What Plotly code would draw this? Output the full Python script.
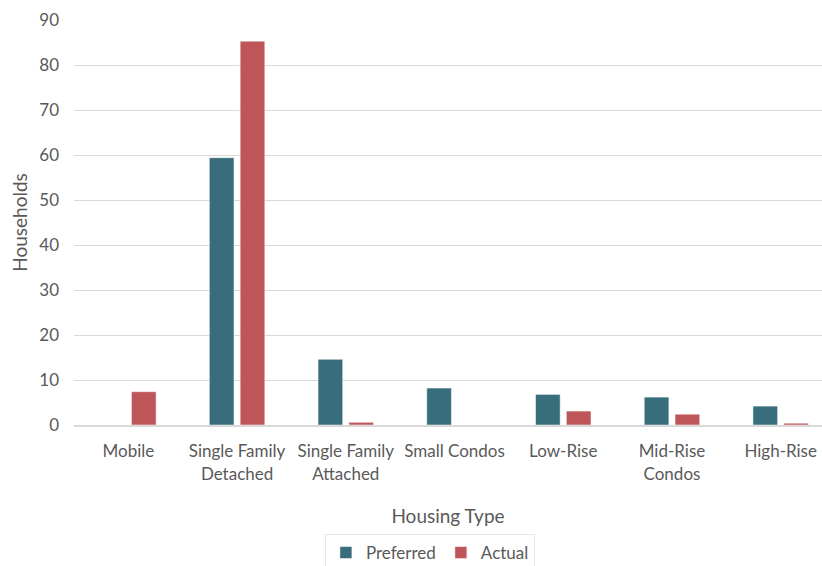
import plotly.graph_objects as go

categories = [
    "Mobile",
    "Single Family<br>Detached",
    "Single Family<br>Attached",
    "Small Condos",
    "Low-Rise",
    "Mid-Rise<br>Condos",
    "High-Rise",
]
preferred = [0, 59.4, 14.6, 8.2, 6.8, 6.2, 4.2]
actual = [7.4, 85.3, 0.6, 0, 3.1, 2.4, 0.4]

PREFERRED_COLOR = "#386E7B"
ACTUAL_COLOR = "#BE5659"
TEXT_COLOR = "#595959"
GRID_COLOR = "#D9D9D9"
FONT = "Lato, Open Sans, sans-serif"

fig = go.Figure()
fig.add_trace(go.Bar(x=categories, y=preferred, name="Preferred", marker=dict(color=PREFERRED_COLOR)))
fig.add_trace(go.Bar(x=categories, y=actual, name="Actual", marker=dict(color=ACTUAL_COLOR)))

fig.update_layout(
    width=822,
    height=566,
    template="plotly_white",
    paper_bgcolor="white",
    plot_bgcolor="white",
    barmode="group",
    bargap=0.433,
    bargroupgap=0.2,
    margin=dict(l=74, r=0, t=20, b=141, autoexpand=False),
    font=dict(family=FONT, size=17, color=TEXT_COLOR),
    legend=dict(
        orientation="h",
        xanchor="center",
        x=0.523,
        xref="container",
        yanchor="middle",
        y=0.023,
        yref="container",
        bordercolor="#E6E6E6",
        borderwidth=1,
        font=dict(size=17, color=TEXT_COLOR),
        itemwidth=30,
    ),
    showlegend=True,
)
# the original plot area runs slightly past the right edge of the picture
fig.update_xaxes(
    range=[-0.5, 6.38],
    title=dict(text="Housing Type", font=dict(size=19, color=TEXT_COLOR), standoff=27),
    tickfont=dict(size=17, color=TEXT_COLOR),
    showline=True,
    linecolor=GRID_COLOR,
    linewidth=2,
    showgrid=False,
    ticks="",
    ticklabelstandoff=10,
    automargin=False,
)
fig.update_yaxes(
    title=dict(text="Households", font=dict(size=19, color=TEXT_COLOR), standoff=6),
    tickfont=dict(size=17, color=TEXT_COLOR),
    range=[0, 90],
    dtick=10,
    showgrid=True,
    gridcolor=GRID_COLOR,
    gridwidth=1,
    zeroline=False,
    ticklabelstandoff=14,
    automargin=False,
)

# drop the default page margin so the 822x566 figure fills the window exactly
fig.write_html(
    "out.html",
    config={"displayModeBar": False},
    post_script="document.body.style.margin='0';document.body.style.overflow='hidden';",
)
